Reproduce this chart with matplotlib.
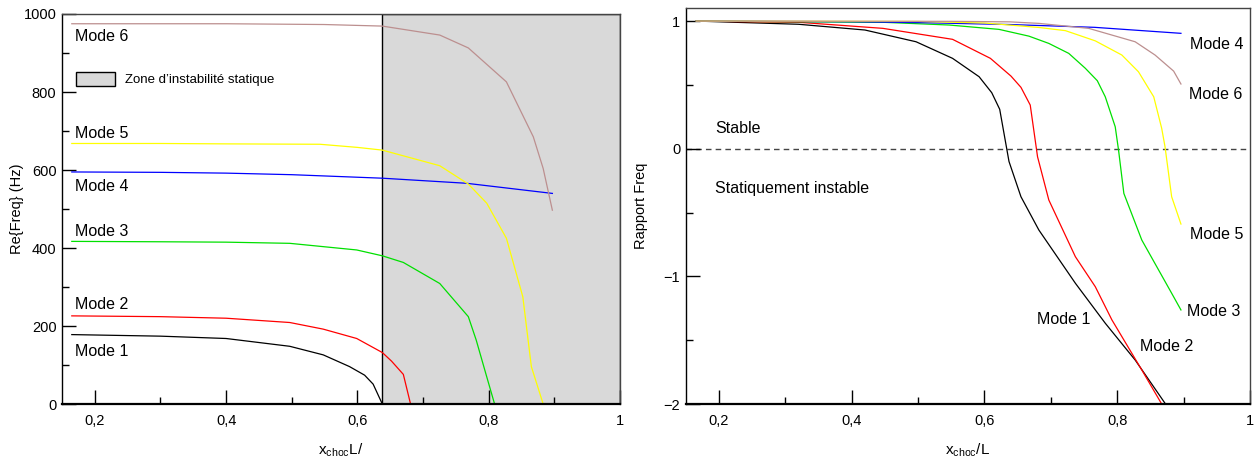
import matplotlib
matplotlib.use("Agg")
import matplotlib.pyplot as plt
from matplotlib.patches import Patch
from matplotlib.ticker import MultipleLocator, FuncFormatter

plt.rcParams['font.family'] = ['Liberation Sans', 'DejaVu Sans']

# ---- data: left panel, Re(Freq) in Hz ----
m1_x = [0.165, 0.3, 0.4, 0.497, 0.548, 0.588, 0.611, 0.624, 0.638, 0.9]
m1_f = [178, 174, 168, 148, 126, 96, 74, 51, 0, 0]
m2_x = [0.165, 0.3, 0.4, 0.497, 0.548, 0.599, 0.638, 0.652, 0.67, 0.681, 0.9]
m2_f = [226, 224, 220, 209, 192, 168, 132, 110, 76, 0, 0]
m3_x = [0.165, 0.3, 0.4, 0.497, 0.599, 0.638, 0.67, 0.7255, 0.769, 0.781, 0.797, 0.809, 0.9]
m3_f = [417, 416, 415, 412, 395, 380, 363, 309, 224, 164, 70, 0, 0]
m4_x = [0.165, 0.3, 0.4, 0.5, 0.638, 0.766, 0.897]
m4_f = [595, 594, 592, 588, 579, 566, 540]
m5_x = [0.165, 0.3, 0.4, 0.543, 0.6, 0.638, 0.7255, 0.769, 0.797, 0.827, 0.852, 0.865, 0.883, 0.9]
m5_f = [668, 668, 667, 666, 658, 651, 611, 564, 515, 425, 275, 96, 0, 0]
m6_x = [0.165, 0.4, 0.55, 0.638, 0.7255, 0.769, 0.827, 0.868, 0.883, 0.897]
m6_f = [975, 975, 973, 969, 946, 913, 826, 685, 604, 497]
zone_start = 0.6377

# ---- data: right panel, frequency ratio ----
r1_x = [0.166, 0.32, 0.42, 0.497, 0.552, 0.592, 0.611, 0.623, 0.637, 0.655, 0.682, 0.737, 0.782, 0.827, 0.872]
r1_y = [1.0, 0.975, 0.93, 0.838, 0.708, 0.564, 0.439, 0.309, -0.1, -0.376, -0.637, -1.054, -1.367, -1.655, -1.994]
r2_x = [0.166, 0.322, 0.447, 0.552, 0.609, 0.64, 0.655, 0.669, 0.68, 0.697, 0.737, 0.767, 0.792, 0.837, 0.867]
r2_y = [1.0, 0.99, 0.943, 0.857, 0.708, 0.569, 0.481, 0.342, -0.063, -0.402, -0.846, -1.081, -1.341, -1.733, -2.0]
r3_x = [0.166, 0.45, 0.547, 0.622, 0.667, 0.697, 0.727, 0.752, 0.77, 0.782, 0.797, 0.802, 0.81, 0.837, 0.882, 0.896]
r3_y = [1.0, 0.99, 0.969, 0.935, 0.882, 0.825, 0.747, 0.63, 0.533, 0.407, 0.172, -0.01, -0.35, -0.715, -1.132, -1.263]
r4_x = [0.166, 0.4, 0.5, 0.638, 0.766, 0.896]
r4_y = [1.0, 0.995, 0.988, 0.973, 0.951, 0.904]
r5_x = [0.166, 0.5, 0.6, 0.682, 0.722, 0.767, 0.807, 0.832, 0.855, 0.867, 0.872, 0.882, 0.896]
r5_y = [1.0, 0.997, 0.985, 0.95, 0.925, 0.845, 0.734, 0.603, 0.407, 0.16, 0.016, -0.376, -0.59]
r6_x = [0.166, 0.55, 0.638, 0.682, 0.757, 0.827, 0.857, 0.885, 0.896]
r6_y = [1.0, 0.998, 0.994, 0.982, 0.943, 0.838, 0.734, 0.608, 0.507]

colors = ['black', '#ff0000', '#00e000', '#0000ff', '#ffff00', '#bc8f8f']
left_data = [(m1_x, m1_f), (m2_x, m2_f), (m3_x, m3_f), (m4_x, m4_f), (m5_x, m5_f), (m6_x, m6_f)]
right_data = [(r1_x, r1_y), (r2_x, r2_y), (r3_x, r3_y), (r4_x, r4_y), (r5_x, r5_y), (r6_x, r6_y)]

# label positions (baseline, left aligned)
left_lbl_x = 0.1695
left_lbl_y = [123, 244, 431, 547, 681, 931]
right_lbl = [(0.6795, -1.375), (0.8347, -1.584), (0.9055, -1.308), (0.91, 0.778), (0.91, -0.71), (0.9085, 0.387)]


def comma(v, pos):
    s = ('%g' % v)
    return s.replace('.', ',')


def style_axes(ax):
    ax.tick_params(which='both', direction='in', top=False, right=False, labelsize=10.5)
    ax.tick_params(which='major', length=10, width=1)
    ax.tick_params(which='minor', length=5, width=1)
    ax.tick_params(axis='x', pad=7)
    ax.tick_params(axis='y', pad=4)
    for sp in ax.spines.values():
        sp.set_linewidth(1.0)
    ax.spines['top'].set_color('#444444')
    ax.spines['right'].set_color('#444444')
    ax.spines['bottom'].set_linewidth(1.6)
    ax.xaxis.set_major_locator(MultipleLocator(0.2))
    ax.xaxis.set_minor_locator(MultipleLocator(0.1))
    ax.xaxis.set_major_formatter(FuncFormatter(comma))


fig = plt.figure(figsize=(12.54, 4.62), dpi=100)
ax1 = fig.add_axes([0.0494, 0.1255, 0.445, 0.8442])
ax2 = fig.add_axes([0.5468, 0.1255, 0.450, 0.8565])

# ---- left panel ----
ax1.axvspan(zone_start, 1.0, facecolor='#d9d9d9', edgecolor='black', lw=1.0, zorder=0)
for (x, y), c in zip(left_data, colors):
    ax1.plot(x, y, color=c, lw=0.9)
for i, yy in enumerate(left_lbl_y):
    ax1.text(left_lbl_x, yy, 'Mode %d' % (i + 1), fontsize=11.5, va='baseline', ha='left')
ax1.set_xlim(0.15, 1.0)
ax1.set_ylim(0, 1000)
ax1.yaxis.set_major_locator(MultipleLocator(200))
ax1.yaxis.set_minor_locator(MultipleLocator(100))
style_axes(ax1)
ax1.set_ylabel('Re{Freq} (Hz)', fontsize=10.5)
ax1.set_xlabel(r'x$_{\mathregular{choc}}$L/', fontsize=11)
ax1.yaxis.set_label_coords(-0.068, 0.5)
ax1.xaxis.set_label_coords(0.5, -0.095)
ax1.legend(handles=[Patch(facecolor='#d9d9d9', edgecolor='black', lw=1.0)],
           labels=["Zone d’instabilité statique"], loc='center left',
           bbox_to_anchor=(0.025, 0.833), frameon=False, borderpad=0, borderaxespad=0,
           handlelength=3.0, handleheight=1.3, handletextpad=0.75, fontsize=9.5)

# ---- right panel ----
ax2.axhline(0, color='#444444', lw=1.0, ls=(0, (4, 3)), zorder=1)
for (x, y), c in zip(right_data, colors):
    ax2.plot(x, y, color=c, lw=0.9)
for i, (xx, yy) in enumerate(right_lbl):
    ax2.text(xx, yy, 'Mode %d' % (i + 1), fontsize=11.5, va='baseline', ha='left')
ax2.text(0.194, 0.12, 'Stable', fontsize=11.5, va='baseline', ha='left')
ax2.text(0.194, -0.349, 'Statiquement instable', fontsize=11.5, va='baseline', ha='left')
ax2.set_xlim(0.15, 1.0)
ax2.set_ylim(-2, 1.1)
ax2.yaxis.set_major_locator(MultipleLocator(1))
ax2.yaxis.set_minor_locator(MultipleLocator(0.5))
ax2.yaxis.set_major_formatter(FuncFormatter(lambda v, p: ('%g' % v).replace('-', '\u2212')))
style_axes(ax2)
ax2.set_ylabel('Rapport Freq', fontsize=10.5)
ax2.set_xlabel(r'x$_{\mathregular{choc}}$/L', fontsize=11)
ax2.yaxis.set_label_coords(-0.067, 0.5)
ax2.xaxis.set_label_coords(0.5, -0.095)

fig.savefig('out.png', dpi=100)
